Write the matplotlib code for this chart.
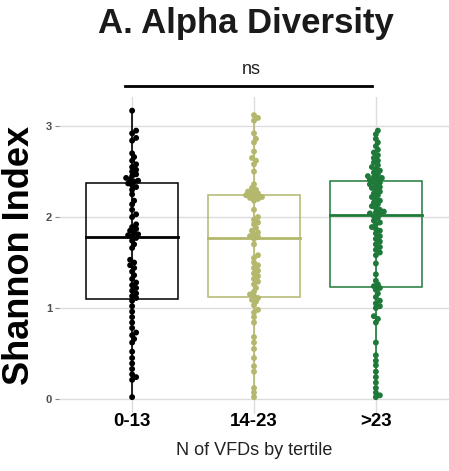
import numpy as np
import matplotlib.pyplot as plt

# ── Data ──────────────────────────────────────────────────────────────────────
groups = ["0-13", "14-23", ">23"]
colors = ["#000000", "#B4B86C", "#1F7A3A"]

shannon_0_13 = [
    3.17, 2.95, 2.92, 2.87, 2.84, 2.70, 2.66, 2.62, 2.58, 2.55, 2.52, 2.50,
    2.47, 2.45, 2.43, 2.41, 2.40, 2.39,
    2.37, 2.35, 2.33, 2.30, 2.25, 2.18, 2.14, 2.08, 2.03, 2.00, 1.92, 1.89,
    1.87, 1.85, 1.83, 1.81, 1.80, 1.79,
    1.77, 1.74, 1.70, 1.66, 1.53, 1.50, 1.47, 1.44, 1.40, 1.36, 1.32, 1.28,
    1.25, 1.22, 1.19, 1.16, 1.13, 1.11,
    1.08, 1.02, 0.96, 0.90, 0.84, 0.78, 0.73, 0.70, 0.66, 0.62, 0.52, 0.45,
    0.39, 0.33, 0.27, 0.24, 0.21, 0.02,
]
shannon_14_23 = [
    3.12, 3.09, 3.06, 2.92, 2.86, 2.82, 2.72, 2.65, 2.62, 2.58, 2.50, 2.36,
    2.32, 2.30, 2.28, 2.27, 2.26,
    2.24, 2.23, 2.22, 2.21, 2.20, 2.18, 2.08, 2.00, 1.97, 1.94, 1.92, 1.88,
    1.85, 1.83, 1.81, 1.79, 1.78,
    1.76, 1.70, 1.58, 1.55, 1.50, 1.47, 1.44, 1.41, 1.38, 1.35, 1.32, 1.29,
    1.26, 1.22, 1.18, 1.15, 1.13,
    1.11, 1.09, 1.07, 1.03, 0.98, 0.95, 0.90, 0.84, 0.68, 0.62, 0.55, 0.45,
    0.36, 0.30, 0.12, 0.07, 0.02,
]
shannon_gt23 = [
    2.95, 2.91, 2.86, 2.82, 2.78, 2.74, 2.71, 2.68, 2.65, 2.62, 2.60, 2.57,
    2.55, 2.53, 2.51, 2.49, 2.47, 2.45, 2.44, 2.43, 2.42, 2.41,
    2.39, 2.38, 2.36, 2.35, 2.33, 2.32, 2.30, 2.28, 2.26, 2.24, 2.22, 2.20,
    2.18, 2.16, 2.14, 2.12, 2.10, 2.08, 2.06, 2.05, 2.04, 2.03,
    2.01, 1.99, 1.96, 1.94, 1.92, 1.89, 1.87, 1.85, 1.82, 1.79, 1.76, 1.73,
    1.70, 1.67, 1.64, 1.61, 1.58, 1.49, 1.37, 1.30, 1.26, 1.24,
    1.22, 1.20, 1.16, 1.12, 1.08, 1.05, 1.02, 1.00, 0.91, 0.88, 0.84, 0.62,
    0.48, 0.42, 0.37, 0.30, 0.24, 0.18, 0.12, 0.07, 0.04, 0.02,
]
data = [shannon_0_13, shannon_14_23, shannon_gt23]
y_ticks = [0, 1, 2, 3]

# ── Layout ────────────────────────────────────────────────────────────────────
W, H = 449, 471
fig = plt.figure(figsize=(W / 100, H / 100), dpi=100)
ax = fig.add_axes([59 / W, 1 - 413.5 / H, 1 - 59 / W, 316.5 / H])
ax.set_xlim(0.4, 3.6)
ax.set_ylim(-0.16, 3.32)

PX_X = 122.3   # pixels per x unit
PX_Y = 91.0    # pixels per y unit


def swarm_offsets(values, d=4.0):
    """simple beeswarm: place points in order, closest free x offset"""
    vals = np.asarray(values, dtype=float)
    order = np.argsort(vals)
    placed = []
    offs = np.zeros(len(vals))
    for i in order:
        y = vals[i] * PX_Y
        cands = [0.0]
        for k in range(1, 12):
            cands += [k * d * 0.5, -k * d * 0.5]
        for c in cands:
            if all((c - px) ** 2 + (y - py) ** 2 >= d * d for px, py in placed):
                break
        placed.append((c, y))
        offs[i] = c
    return offs / PX_X


grid_c = "#DCDCDC"
for t in y_ticks:
    ax.axhline(t, color=grid_c, lw=1, zorder=0)
for i in range(len(groups)):
    ax.axvline(i + 1, color=grid_c, lw=1, zorder=0)

for i, (vals, col) in enumerate(zip(data, colors)):
    x0 = i + 1
    q1, med, q3 = np.percentile(vals, [25, 50, 75])
    ax.plot([x0, x0], [min(vals), max(vals)], color=col, lw=1.2, zorder=1)
    ax.add_patch(plt.Rectangle((x0 - 0.375, q1), 0.75, q3 - q1, fill=False,
                               edgecolor=col, lw=1.1, zorder=2))
    ax.plot([x0 - 0.375, x0 + 0.375], [med, med], color=col, lw=2, zorder=2)
    ax.scatter(x0 + swarm_offsets(vals), vals, s=18, color=col,
               edgecolors="none", zorder=3)

for s in ax.spines.values():
    s.set_visible(False)

ax.set_yticks(y_ticks)
ax.set_yticklabels([str(t) for t in y_ticks], fontsize=8, fontweight="bold",
                   color="#4D4D4D", family="Liberation Sans")
ax.tick_params(axis="y", length=3, width=0.8, color="#888888", pad=2)
ax.set_xticks([1, 2, 3])
ax.set_xticklabels(groups, fontsize=13.5, fontweight="bold",
                   family="Liberation Sans")
ax.tick_params(axis="x", length=0, pad=0)

ax.set_xlabel("N of VFDs by tertile", fontsize=13, family="Liberation Sans",
              color="#222222", labelpad=8)
ax.set_ylabel("Shannon Index", fontsize=26, fontweight="bold",
              family="Liberation Sans", labelpad=6)

# significance bracket
ax.plot([0.94, 2.97], [3.44, 3.44], color="black", lw=2, clip_on=False)
ax.text(1.98, 3.53, "ns", ha="center", va="bottom", fontsize=13,
        family="Liberation Sans", color="#222222")

fig.text(246 / W, 1 - 23 / H, "A. Alpha Diversity", ha="center", va="center",
         fontsize=25, fontweight="bold", family="Liberation Sans",
         color="#1a1a1a")

fig.savefig("out.png", dpi=100)
